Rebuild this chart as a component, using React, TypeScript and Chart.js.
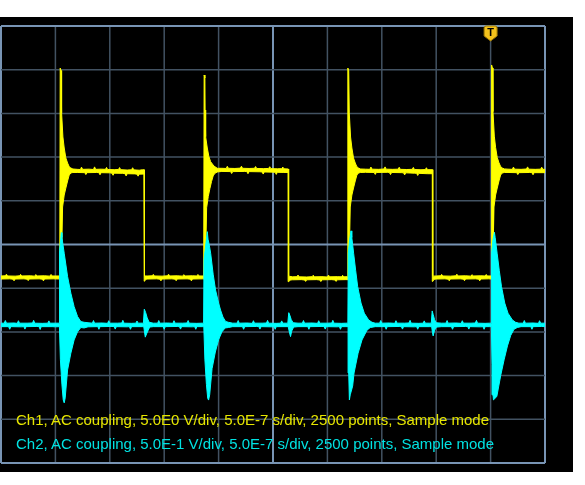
import { useEffect, useRef } from 'react';
import { Chart, registerables } from 'chart.js';

Chart.register(...registerables);

// ---- scope settings ----
const timePerDivUs = 0.5;
const timeDivs = 10;
const voltDivs = 10;
const ch1VoltsPerDiv = 5;
const ch2VoltsPerDiv = 0.5;
const ch1PositionDiv = 0;
const ch2PositionDiv = -1.84;
const triggerTimeUs = 4.5;
const ch1Label = 'Ch1, AC coupling, 5.0E0 V/div, 5.0E-7 s/div, 2500 points, Sample mode';
const ch2Label = 'Ch2, AC coupling, 5.0E-1 V/div, 5.0E-7 s/div, 2500 points, Sample mode';

// ---- Ch1 trace envelope (top edge): [time µs, volts] ----
const ch1Upper: [number, number][] = [
  [0.00, -3.60], [0.04, -3.58], [0.05, -3.40], [0.06, -3.60], [0.13, -3.62], [0.17, -3.58], [0.18, -3.42], [0.19, -3.60], [0.27, -3.58], [0.31, -3.62], [0.32, -3.44], [0.33, -3.60], [0.40, -3.58], [0.45, -3.62], [0.46, -3.43], [0.47, -3.60], [0.540, -3.60],
  [0.544, 20.19], [0.552, 19.9], [0.557, 15.05], [0.569, 12.30], [0.581, 11.04], [0.596, 9.90], [0.612, 9.32], [0.627, 8.90], [0.642, 8.75], [0.661, 8.64],
  [0.70, 8.60], [0.73, 8.58], [0.74, 8.85], [0.75, 8.60], [0.81, 8.62], [0.85, 8.58], [0.86, 8.88], [0.87, 8.60], [0.92, 8.62], [0.96, 8.60], [0.97, 8.82], [0.98, 8.58], [1.04, 8.56], [1.08, 8.58], [1.09, 8.80], [1.10, 8.56], [1.16, 8.52], [1.20, 8.55], [1.21, 8.78], [1.22, 8.54], [1.27, 8.50], [1.30, 8.55], [1.316, 8.55],
  [1.319, -3.60],
  [1.35, -3.60], [1.39, -3.58], [1.40, -3.42], [1.41, -3.60], [1.48, -3.62], [1.53, -3.58], [1.54, -3.40], [1.55, -3.60], [1.62, -3.58], [1.67, -3.62], [1.68, -3.45], [1.69, -3.60], [1.76, -3.58], [1.80, -3.60], [1.81, -3.43], [1.82, -3.60], [1.863, -3.60],
  [1.867, 19.39], [1.874, 19.05], [1.876, 15.39], [1.881, 12.33], [1.896, 11.04], [1.911, 10.05], [1.927, 9.47], [1.957, 8.98], [1.988, 8.72],
  [2.03, 8.72], [2.07, 8.70], [2.08, 8.95], [2.09, 8.72], [2.15, 8.70], [2.20, 8.74], [2.21, 8.96], [2.22, 8.72], [2.28, 8.70], [2.33, 8.72], [2.34, 8.92], [2.35, 8.70], [2.41, 8.68], [2.46, 8.70], [2.47, 8.90], [2.48, 8.68], [2.54, 8.66], [2.58, 8.68], [2.59, 8.86], [2.60, 8.66], [2.641, 8.64],
  [2.644, -3.62],
  [2.68, -3.70], [2.72, -3.68], [2.73, -3.50], [2.74, -3.70], [2.81, -3.72], [2.86, -3.68], [2.87, -3.52], [2.88, -3.70], [2.95, -3.68], [3.00, -3.72], [3.01, -3.50], [3.02, -3.70], [3.09, -3.68], [3.13, -3.70], [3.14, -3.53], [3.15, -3.70], [3.184, -3.68],
  [3.188, 20.19], [3.196, 19.9], [3.201, 15.05], [3.213, 12.30], [3.225, 11.04], [3.240, 9.90], [3.256, 9.32], [3.271, 8.90], [3.286, 8.75], [3.305, 8.64],
  [3.35, 8.62], [3.39, 8.60], [3.40, 8.86], [3.41, 8.62], [3.47, 8.60], [3.52, 8.64], [3.53, 8.88], [3.54, 8.62], [3.60, 8.60], [3.65, 8.62], [3.66, 8.84], [3.67, 8.60], [3.73, 8.58], [3.78, 8.60], [3.79, 8.82], [3.80, 8.58], [3.86, 8.55], [3.90, 8.57], [3.91, 8.78], [3.92, 8.56], [3.966, 8.56],
  [3.969, -3.62],
  [4.00, -3.60], [4.04, -3.58], [4.05, -3.42], [4.06, -3.60], [4.13, -3.62], [4.18, -3.58], [4.19, -3.40], [4.20, -3.60], [4.27, -3.58], [4.32, -3.62], [4.33, -3.45], [4.34, -3.60], [4.41, -3.58], [4.45, -3.60], [4.46, -3.43], [4.47, -3.60], [4.505, -3.60],
  [4.509, 20.54], [4.517, 20.2], [4.522, 15.2], [4.534, 12.40], [4.546, 11.10], [4.561, 9.95], [4.577, 9.35], [4.592, 8.92], [4.607, 8.76], [4.626, 8.65],
  [4.66, 8.62], [4.70, 8.60], [4.71, 8.86], [4.72, 8.62], [4.78, 8.60], [4.83, 8.64], [4.84, 8.88], [4.85, 8.62], [4.91, 8.60], [4.96, 8.62], [4.97, 8.84], [4.98, 8.60], [5.00, 8.60],
];

// ---- Ch1 trace envelope (bottom edge) ----
const ch1Lower: [number, number][] = [
  [0.00, -3.95], [0.08, -3.93], [0.11, -3.97], [0.12, -4.15], [0.13, -3.95], [0.21, -3.93], [0.24, -3.97], [0.25, -4.13], [0.26, -3.95], [0.35, -3.93], [0.38, -3.97], [0.39, -4.16], [0.40, -3.95], [0.48, -3.93], [0.553, -3.95],
  [0.560, 0.51], [0.566, 4.29], [0.581, 5.66], [0.596, 6.46], [0.612, 7.27], [0.627, 7.95], [0.642, 8.18], [0.661, 8.24],
  [0.70, 8.24], [0.77, 8.22], [0.78, 8.00], [0.79, 8.22], [0.88, 8.24], [0.90, 8.22], [0.91, 7.98], [0.92, 8.22], [1.00, 8.20], [1.02, 8.16], [1.03, 7.92], [1.04, 8.16], [1.12, 8.14], [1.14, 8.10], [1.15, 7.85], [1.16, 8.10], [1.23, 8.08], [1.25, 8.05], [1.26, 7.82], [1.27, 8.05], [1.314, 8.06],
  [1.316, -3.97], [1.320, -4.20], [1.33, -3.98],
  [1.35, -3.95], [1.43, -3.93], [1.46, -3.97], [1.47, -4.15], [1.48, -3.95], [1.57, -3.93], [1.60, -3.97], [1.61, -4.14], [1.62, -3.95], [1.71, -3.93], [1.74, -3.97], [1.75, -4.16], [1.76, -3.95], [1.85, -3.93], [1.876, -3.95],
  [1.884, 0.5], [1.890, 4.2], [1.905, 5.5], [1.920, 6.4], [1.935, 7.2], [1.950, 7.85], [1.966, 8.15], [1.99, 8.30],
  [2.03, 8.36], [2.11, 8.34], [2.12, 8.12], [2.13, 8.34], [2.24, 8.36], [2.26, 8.34], [2.27, 8.10], [2.28, 8.34], [2.38, 8.32], [2.40, 8.30], [2.41, 8.06], [2.42, 8.30], [2.50, 8.28], [2.52, 8.26], [2.53, 8.02], [2.54, 8.26], [2.60, 8.24], [2.638, 8.24],
  [2.640, -4.04], [2.645, -4.25], [2.66, -4.06],
  [2.68, -4.04], [2.76, -4.02], [2.79, -4.06], [2.80, -4.22], [2.81, -4.04], [2.90, -4.02], [2.93, -4.06], [2.94, -4.24], [2.95, -4.04], [3.04, -4.02], [3.07, -4.06], [3.08, -4.22], [3.09, -4.04], [3.17, -4.02], [3.197, -4.03],
  [3.204, 0.51], [3.210, 4.29], [3.225, 5.66], [3.240, 6.46], [3.256, 7.27], [3.271, 7.95], [3.286, 8.18], [3.305, 8.24],
  [3.35, 8.26], [3.43, 8.24], [3.44, 8.02], [3.45, 8.24], [3.55, 8.26], [3.57, 8.24], [3.58, 8.00], [3.59, 8.24], [3.68, 8.22], [3.70, 8.20], [3.71, 7.96], [3.72, 8.20], [3.80, 8.16], [3.82, 8.14], [3.83, 7.90], [3.84, 8.14], [3.92, 8.10], [3.963, 8.10],
  [3.965, -3.97], [3.969, -4.22], [3.98, -3.99],
  [4.00, -3.95], [4.08, -3.93], [4.11, -3.97], [4.12, -4.15], [4.13, -3.95], [4.22, -3.93], [4.25, -3.97], [4.26, -4.14], [4.27, -3.95], [4.36, -3.93], [4.39, -3.97], [4.40, -4.16], [4.41, -3.95], [4.48, -3.93], [4.518, -3.95],
  [4.525, 0.51], [4.531, 4.29], [4.546, 5.66], [4.561, 6.46], [4.577, 7.27], [4.592, 7.95], [4.607, 8.18], [4.626, 8.24],
  [4.66, 8.24], [4.74, 8.22], [4.75, 8.00], [4.76, 8.22], [4.86, 8.24], [4.88, 8.22], [4.89, 7.98], [4.90, 8.22], [5.00, 8.22],
];

// ---- Ch2 trace envelope (top edge): [time µs, volts] ----
const ch2Upper: [number, number][] = [
  [0.00, 0.02], [0.03, 0.02], [0.04, 0.05], [0.05, 0.02], [0.12, 0.022], [0.15, 0.018], [0.16, 0.048], [0.17, 0.02], [0.24, 0.02], [0.29, 0.022], [0.30, 0.052], [0.31, 0.02], [0.38, 0.018], [0.43, 0.02], [0.44, 0.046], [0.45, 0.02], [0.50, 0.02],
  [0.535, 0.02], [0.538, 0.85], [0.548, 0.97], [0.555, 1.056], [0.560, 1.00], [0.566, 0.95], [0.581, 0.820], [0.612, 0.553], [0.642, 0.363], [0.672, 0.209], [0.704, 0.095], [0.734, 0.038], [0.764, 0.03],
  [0.80, 0.025], [0.84, 0.02], [0.85, 0.05], [0.86, 0.02], [0.93, 0.022], [0.98, 0.018], [0.99, 0.048], [1.00, 0.02], [1.07, 0.02], [1.11, 0.022], [1.12, 0.052], [1.13, 0.02], [1.20, 0.018], [1.24, 0.02], [1.25, 0.045], [1.26, 0.02], [1.30, 0.02],
  [1.309, 0.02], [1.317, 0.18], [1.330, 0.14], [1.344, 0.08], [1.362, 0.03],
  [1.40, 0.02], [1.44, 0.02], [1.45, 0.05], [1.46, 0.02], [1.53, 0.022], [1.58, 0.018], [1.59, 0.048], [1.60, 0.02], [1.67, 0.02], [1.71, 0.022], [1.72, 0.05], [1.73, 0.02], [1.80, 0.018], [1.85, 0.02],
  [1.862, 0.02], [1.866, 0.75], [1.885, 0.95], [1.896, 1.067], [1.903, 0.98], [1.912, 0.93], [1.927, 0.82], [1.950, 0.58], [1.972, 0.40], [2.000, 0.25], [2.018, 0.17], [2.040, 0.09], [2.064, 0.04], [2.090, 0.03],
  [2.13, 0.02], [2.17, 0.02], [2.18, 0.05], [2.19, 0.02], [2.26, 0.022], [2.31, 0.018], [2.32, 0.048], [2.33, 0.02], [2.40, 0.02], [2.44, 0.022], [2.45, 0.052], [2.46, 0.02], [2.53, 0.018], [2.57, 0.02], [2.58, 0.046], [2.59, 0.02], [2.62, 0.02],
  [2.636, 0.02], [2.645, 0.14], [2.655, 0.11], [2.668, 0.06], [2.685, 0.025],
  [2.73, 0.02], [2.77, 0.02], [2.78, 0.05], [2.79, 0.02], [2.86, 0.022], [2.91, 0.018], [2.92, 0.048], [2.93, 0.02], [3.00, 0.02], [3.04, 0.022], [3.05, 0.052], [3.06, 0.02], [3.13, 0.018], [3.17, 0.02],
  [3.188, 0.02], [3.192, 0.82], [3.205, 0.98], [3.217, 1.076], [3.224, 1.00], [3.232, 0.92], [3.241, 0.82], [3.260, 0.62], [3.278, 0.44], [3.309, 0.25], [3.339, 0.134], [3.379, 0.057], [3.41, 0.03],
  [3.44, 0.02], [3.48, 0.02], [3.49, 0.05], [3.50, 0.02], [3.57, 0.022], [3.62, 0.018], [3.63, 0.048], [3.64, 0.02], [3.71, 0.02], [3.75, 0.022], [3.76, 0.052], [3.77, 0.02], [3.84, 0.018], [3.88, 0.02], [3.89, 0.046], [3.90, 0.02], [3.94, 0.02],
  [3.955, 0.02], [3.963, 0.16], [3.972, 0.12], [3.985, 0.06], [4.000, 0.025],
  [4.05, 0.02], [4.09, 0.02], [4.10, 0.05], [4.11, 0.02], [4.18, 0.022], [4.23, 0.018], [4.24, 0.048], [4.25, 0.02], [4.32, 0.02], [4.36, 0.022], [4.37, 0.052], [4.38, 0.02], [4.45, 0.018], [4.49, 0.02],
  [4.505, 0.02], [4.509, 0.82], [4.522, 0.98], [4.535, 1.06], [4.542, 1.00], [4.550, 0.92], [4.560, 0.82], [4.580, 0.62], [4.600, 0.44], [4.630, 0.25], [4.660, 0.134], [4.700, 0.057], [4.73, 0.03],
  [4.76, 0.02], [4.80, 0.02], [4.81, 0.05], [4.82, 0.02], [4.89, 0.022], [4.94, 0.018], [4.95, 0.048], [4.96, 0.02], [5.00, 0.02],
];

// ---- Ch2 trace envelope (bottom edge) ----
const ch2Lower: [number, number][] = [
  [0.00, -0.02], [0.07, -0.02], [0.08, -0.05], [0.09, -0.02], [0.19, -0.022], [0.21, -0.02], [0.22, -0.048], [0.23, -0.02], [0.33, -0.018], [0.35, -0.02], [0.36, -0.052], [0.37, -0.02], [0.47, -0.02], [0.50, -0.022],
  [0.537, -0.02], [0.546, -0.40], [0.560, -0.686], [0.572, -0.858], [0.581, -0.892], [0.590, -0.835], [0.612, -0.515], [0.642, -0.324], [0.672, -0.172], [0.704, -0.077], [0.734, -0.03], [0.764, -0.035],
  [0.80, -0.022], [0.89, -0.02], [0.90, -0.05], [0.91, -0.02], [1.02, -0.018], [1.04, -0.02], [1.05, -0.048], [1.06, -0.02], [1.16, -0.022], [1.18, -0.02], [1.19, -0.05], [1.20, -0.02], [1.30, -0.02],
  [1.312, -0.02], [1.326, -0.14], [1.339, -0.10], [1.353, -0.06], [1.367, -0.025],
  [1.40, -0.02], [1.49, -0.02], [1.50, -0.05], [1.51, -0.02], [1.62, -0.018], [1.64, -0.02], [1.65, -0.048], [1.66, -0.02], [1.76, -0.022], [1.78, -0.02], [1.79, -0.05], [1.80, -0.02], [1.85, -0.02],
  [1.864, -0.02], [1.874, -0.40], [1.888, -0.68], [1.900, -0.84], [1.908, -0.86], [1.918, -0.80], [1.940, -0.50], [1.970, -0.31], [2.000, -0.17], [2.030, -0.08], [2.060, -0.035], [2.090, -0.03],
  [2.13, -0.02], [2.22, -0.02], [2.23, -0.05], [2.24, -0.02], [2.35, -0.018], [2.37, -0.02], [2.38, -0.048], [2.39, -0.02], [2.49, -0.022], [2.51, -0.02], [2.52, -0.05], [2.53, -0.02], [2.62, -0.02],
  [2.640, -0.02], [2.650, -0.08], [2.661, -0.134], [2.672, -0.07], [2.690, -0.025],
  [2.73, -0.02], [2.82, -0.02], [2.83, -0.05], [2.84, -0.02], [2.95, -0.018], [2.97, -0.02], [2.98, -0.048], [2.99, -0.02], [3.09, -0.022], [3.11, -0.02], [3.12, -0.05], [3.13, -0.02], [3.17, -0.02],
  [3.190, -0.02], [3.196, -0.55], [3.202, -0.858], [3.210, -0.80], [3.232, -0.70], [3.245, -0.55], [3.282, -0.324], [3.318, -0.172], [3.364, -0.06], [3.394, -0.03],
  [3.44, -0.02], [3.53, -0.02], [3.54, -0.05], [3.55, -0.02], [3.66, -0.018], [3.68, -0.02], [3.69, -0.048], [3.70, -0.02], [3.80, -0.022], [3.82, -0.02], [3.83, -0.05], [3.84, -0.02], [3.94, -0.02],
  [3.958, -0.02], [3.966, -0.09], [3.972, -0.126], [3.985, -0.06], [4.003, -0.025],
  [4.05, -0.02], [4.14, -0.02], [4.15, -0.05], [4.16, -0.02], [4.27, -0.018], [4.29, -0.02], [4.30, -0.048], [4.31, -0.02], [4.41, -0.022], [4.43, -0.02], [4.44, -0.05], [4.45, -0.02], [4.49, -0.02],
  [4.507, -0.02], [4.513, -0.45], [4.522, -0.80], [4.526, -0.858], [4.557, -0.82], [4.594, -0.572], [4.624, -0.40], [4.655, -0.24], [4.685, -0.12], [4.715, -0.05], [4.745, -0.03],
  [4.78, -0.02], [4.87, -0.02], [4.88, -0.05], [4.89, -0.02], [4.97, -0.018], [5.00, -0.02],
];

const toShape = (upper: [number, number][], lower: [number, number][]) =>
  [...upper, ...lower.slice().reverse()].map(([x, y]) => ({ x, y }));

const scopePlugin = {
  id: 'scopeGrid',
  beforeDatasetsDraw(chart: any) {
    const { ctx, chartArea: a, scales } = chart;
    const xs = scales.x;
    const ys = scales.y;
    ctx.save();
    for (let i = 0; i <= timeDivs; i++) {
      const px = xs.getPixelForValue(i * timePerDivUs);
      const major = i === 0 || i === timeDivs || i === timeDivs / 2;
      ctx.strokeStyle = major ? '#7894b4' : '#425262';
      ctx.lineWidth = major ? 2 : 1.5;
      ctx.beginPath();
      ctx.moveTo(px, a.top);
      ctx.lineTo(px, a.bottom);
      ctx.stroke();
    }
    for (let i = 0; i <= voltDivs; i++) {
      const v = (i - voltDivs / 2 - ch1PositionDiv) * ch1VoltsPerDiv;
      const py = ys.getPixelForValue(v);
      const major = i === 0 || i === voltDivs || i === voltDivs / 2;
      ctx.strokeStyle = major ? '#7894b4' : '#425262';
      ctx.lineWidth = major ? 2 : 1.5;
      ctx.beginPath();
      ctx.moveTo(a.left, py);
      ctx.lineTo(a.right, py);
      ctx.stroke();
    }
    ctx.restore();
  },
  afterDraw(chart: any) {
    const { ctx, chartArea: a, scales } = chart;
    const cx = scales.x.getPixelForValue(triggerTimeUs);
    const top = a.top;
    const hw = 6.5;
    ctx.save();
    ctx.beginPath();
    ctx.moveTo(cx - hw + 2, top);
    ctx.lineTo(cx + hw - 2, top);
    ctx.quadraticCurveTo(cx + hw, top, cx + hw, top + 2);
    ctx.lineTo(cx + hw, top + 10);
    ctx.lineTo(cx, top + 15);
    ctx.lineTo(cx - hw, top + 10);
    ctx.lineTo(cx - hw, top + 2);
    ctx.quadraticCurveTo(cx - hw, top, cx - hw + 2, top);
    ctx.closePath();
    ctx.fillStyle = '#f4c21c';
    ctx.fill();
    ctx.strokeStyle = '#9a7400';
    ctx.lineWidth = 1;
    ctx.stroke();
    ctx.fillStyle = '#000';
    ctx.font = 'bold 11px "Liberation Sans", Arial, sans-serif';
    ctx.textAlign = 'center';
    ctx.textBaseline = 'middle';
    ctx.fillText('T', cx, top + 7);
    ctx.restore();
  },
};

export default function App() {
  const ref = useRef<HTMLCanvasElement>(null);

  useEffect(() => {
    if (!ref.current) return;
    const ch2Center = -ch2PositionDiv * ch2VoltsPerDiv;
    const ch1Center = -ch1PositionDiv * ch1VoltsPerDiv;
    const chart = new Chart(ref.current, {
      type: 'line',
      data: {
        datasets: [
          {
            label: 'Ch2',
            data: toShape(ch2Upper, ch2Lower),
            yAxisID: 'y2',
            borderColor: '#00ffff',
            backgroundColor: '#00ffff',
            borderWidth: 1,
            pointRadius: 0,
            tension: 0,
            fill: 'shape',
          },
          {
            label: 'Ch1',
            data: toShape(ch1Upper, ch1Lower),
            yAxisID: 'y',
            borderColor: '#ffff00',
            backgroundColor: '#ffff00',
            borderWidth: 1,
            pointRadius: 0,
            tension: 0,
            fill: 'shape',
          },
        ],
      },
      options: {
        animation: false,
        responsive: false,
        events: [],
        layout: { padding: { left: 1, right: 28, top: 9, bottom: 9 } },
        plugins: { legend: { display: false }, tooltip: { enabled: false } },
        scales: {
          x: { type: 'linear', min: 0, max: timeDivs * timePerDivUs, display: false },
          y: {
            type: 'linear',
            min: ch1Center - (voltDivs / 2) * ch1VoltsPerDiv,
            max: ch1Center + (voltDivs / 2) * ch1VoltsPerDiv,
            display: false,
          },
          y2: {
            type: 'linear',
            min: ch2Center - (voltDivs / 2) * ch2VoltsPerDiv,
            max: ch2Center + (voltDivs / 2) * ch2VoltsPerDiv,
            display: false,
          },
        },
      },
      plugins: [scopePlugin],
    } as any);
    return () => chart.destroy();
  }, []);

  const textBase: React.CSSProperties = {
    position: 'absolute',
    left: 16,
    fontFamily: '"Liberation Sans", Arial, sans-serif',
    fontSize: 15,
    lineHeight: '15px',
    whiteSpace: 'nowrap',
  };

  return (
    <div style={{ position: 'absolute', left: 0, top: 0, width: 585, height: 485, background: '#fff', overflow: 'hidden' }}>
      <div style={{ position: 'absolute', left: 0, top: 17, width: 573, height: 455, background: '#000' }}>
        <canvas ref={ref} width={573} height={455} style={{ display: 'block', width: 573, height: 455 }} />
      </div>
      <div style={{ ...textBase, top: 411.6, color: '#e6e600' }}>{ch1Label}</div>
      <div style={{ ...textBase, top: 435.6, color: '#00e2e2' }}>{ch2Label}</div>
    </div>
  );
}
